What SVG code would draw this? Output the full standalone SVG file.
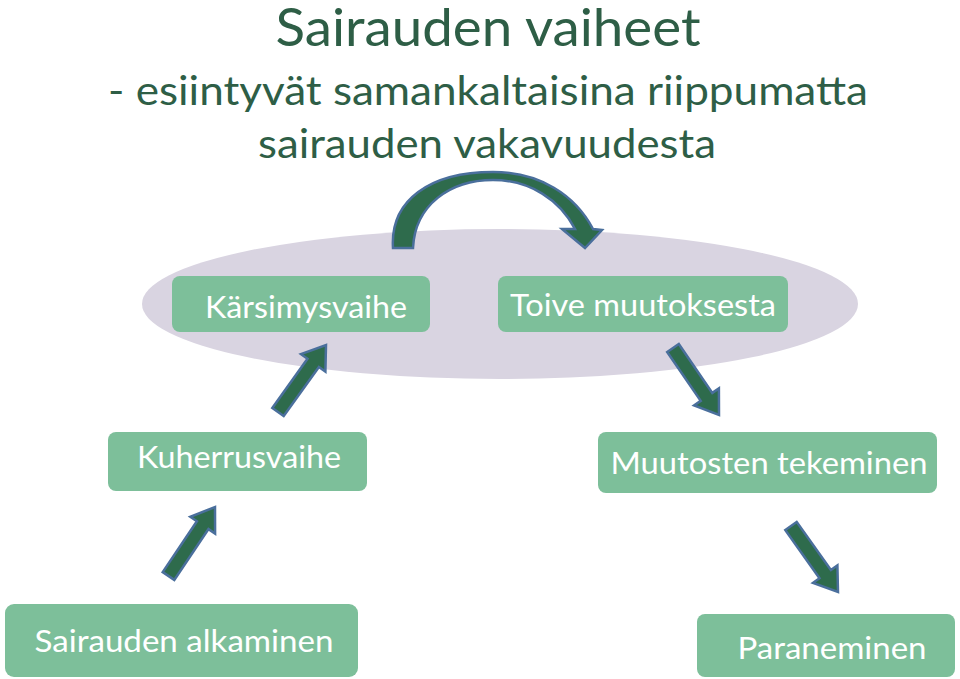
<svg xmlns="http://www.w3.org/2000/svg" width="960" height="679" viewBox="0 0 960 679">
<style>
.title{font-family:Lato,"Open Sans","Liberation Sans",sans-serif;fill:#2e5e46;text-anchor:middle}
.box rect{fill:#7dbf9a}
.box text{font-family:Lato,"Open Sans","Liberation Sans",sans-serif;font-size:31px;fill:#ffffff;text-anchor:middle}
.arr{fill:#2e6b4c;stroke:#4a6f9c;stroke-width:2.5;stroke-linejoin:miter}
</style>
<rect width="960" height="679" fill="#ffffff"/>
<g id="title">
<text class="title" x="488" y="46" font-size="52" textLength="425" lengthAdjust="spacingAndGlyphs">Sairauden vaiheet</text>
<text class="title" x="488" y="105" font-size="41" textLength="760" lengthAdjust="spacingAndGlyphs">- esiintyvät samankaltaisina riippumatta</text>
<text class="title" x="487" y="158" font-size="41" textLength="458" lengthAdjust="spacingAndGlyphs">sairauden vakavuudesta</text>
</g>
<g id="ellipse"><ellipse cx="500" cy="304" rx="358" ry="75" fill="#d9d4e1"/></g>
<g id="connectors">
<path class="arr" d="M393,248 C390,200 430,172 493,172 C540,172 575,195 593,229 L602,230 L585,248 L562,229 L575,229 C560,200 530,180 493,180 C450,180 415,205 413,248 Z"/>
<polygon class="arr" points="272.3,407.9 307.5,358.8 301,354.2 326,345 325.4,371.6 318.9,367 283.7,416.1"/>
<polygon class="arr" points="162.7,572.1 196.9,521.3 190.3,516.8 215,507 215.1,533.6 208.5,529.1 174.3,579.9"/>
<polygon class="arr" points="678.8,344 712.3,392.9 718.9,388.4 719,415 694.1,405.4 700.7,400.9 667.2,352"/>
<polygon class="arr" points="796.7,521.9 830.9,570 837.4,565.4 838,592 813,582.8 819.5,578.2 785.3,530.1"/>
</g>
<g id="n1" class="box"><rect x="172" y="276" width="258" height="56" rx="8"/><text x="306" y="318" textLength="202" lengthAdjust="spacingAndGlyphs">Kärsimysvaihe</text></g>
<g id="n2" class="box"><rect x="498" y="276" width="290" height="56" rx="8"/><text x="643" y="316" textLength="266" lengthAdjust="spacingAndGlyphs">Toive muutoksesta</text></g>
<g id="n3" class="box"><rect x="108" y="432" width="259" height="59" rx="8"/><text x="239" y="468" textLength="204" lengthAdjust="spacingAndGlyphs">Kuherrusvaihe</text></g>
<g id="n4" class="box"><rect x="598" y="432" width="339" height="61" rx="8"/><text x="769" y="474" textLength="317" lengthAdjust="spacingAndGlyphs">Muutosten tekeminen</text></g>
<g id="n5" class="box"><rect x="5" y="604" width="353" height="73" rx="9"/><text x="184" y="652" textLength="299" lengthAdjust="spacingAndGlyphs">Sairauden alkaminen</text></g>
<g id="n6" class="box"><rect x="697" y="614" width="258" height="63" rx="8"/><text x="832" y="659" textLength="189" lengthAdjust="spacingAndGlyphs">Paraneminen</text></g>
</svg>
